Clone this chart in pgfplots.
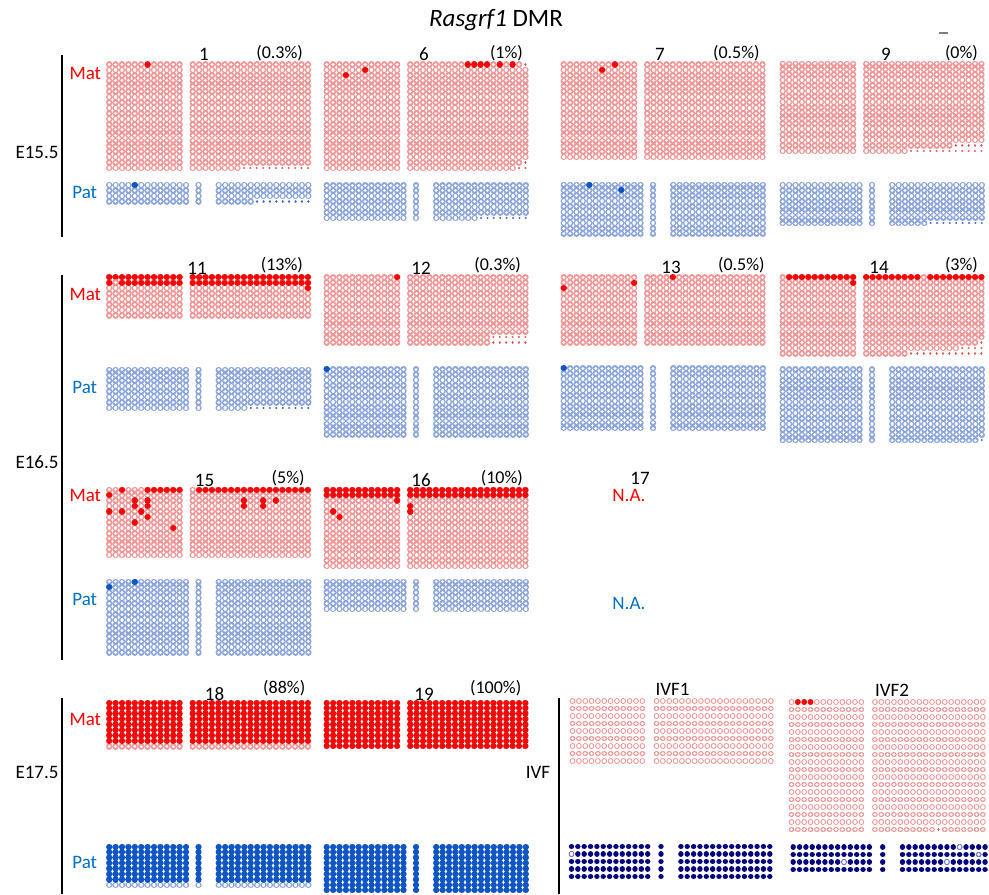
\documentclass[border=0pt]{standalone}
\usepackage{fontspec}
\setmainfont{Carlito}
\usepackage{pgfplots}
\pgfplotsset{compat=1.18}

\definecolor{matring}{RGB}{240,150,150}
\definecolor{matred}{RGB}{240,10,10}
\definecolor{matsmall}{RGB}{228,85,85}
\definecolor{patring}{RGB}{140,165,218}
\definecolor{patblue}{RGB}{15,85,195}
\definecolor{patsmall}{RGB}{60,100,200}
\definecolor{ivfnavy}{RGB}{5,5,125}
\definecolor{ivfring}{RGB}{120,130,210}
\definecolor{labred}{RGB}{255,0,0}
\definecolor{labblue}{RGB}{0,112,192}

% one "mark" = a block of nc x nr CpG circles, drawn row by row as
% dotted strokes with round caps (1 px of the picture = 0.5pt)
\newdimen\blkunit \blkunit=0.5pt
\newdimen\blkpxd \newdimen\blkpyd \newdimen\blkoffd
\newdimen\blkdod \newdimen\blkdid \newdimen\blkxa \newdimen\blkxb
\newcount\blkj \newcount\blkje
\def\blkrows{%
  \ifnum\blkj<\blkje
    \pgfpathmoveto{\pgfqpoint{\blkxa}{\dimexpr-\blkpyd*\blkj-\blkpyd/2\relax}}%
    \pgfpathlineto{\pgfqpoint{\blkxb}{\dimexpr-\blkpyd*\blkj-\blkpyd/2\relax}}%
    \advance\blkj 1\relax
    \expandafter\blkrows
  \fi}
\def\blksetup{%
  \blkpxd=\blkpx\blkunit \blkpyd=\blkpy\blkunit
  \blkdod=\blkdo\blkunit \blkdid=\blkdi\blkunit
  \blkoffd=\dimexpr\blkpxd-0.01pt\relax
  \blkxa=\dimexpr\blkpxd*\blkc+\blkpxd/2\relax
  \blkxb=\dimexpr\blkpxd*(\blkc+\blknc-1)+\blkpxd/2+0.01pt\relax
  \blkje=\numexpr\blkr+\blknr\relax
  \pgfsetroundcap
  \pgfsetdash{{0.01pt}{\the\blkoffd}}{0pt}%
  \pgfsetlinewidth{\the\blkdod}%
  \blkj=\blkr\relax \blkrows \pgfusepathqstroke}
\pgfdeclareplotmark{discgrid}{\blksetup}
\pgfdeclareplotmark{ringgrid}{\blksetup
  \pgfsetlinewidth{\the\blkdid}\pgfsetstrokecolor{white}%
  \blkj=\blkr\relax \blkrows \pgfusepathqstroke}

\pgfplotsset{
  blk/.style n args={6}{only marks, scatter, mark=#1, forget plot,
    visualization depends on={value \thisrow{c}\as\blkc},
    visualization depends on={value \thisrow{r}\as\blkr},
    visualization depends on={value \thisrow{nc}\as\blknc},
    visualization depends on={value \thisrow{nr}\as\blknr},
    scatter/@pre marker code/.code={\pgfscope\pgfsetstrokecolor{#2}%
      \def\blkpx{#3}\def\blkpy{#4}\def\blkdo{#5}\def\blkdi{#6}},
    scatter/@post marker code/.code={\endpgfscope}},
  sep/.style={black, line width=1.2pt, no marks, forget plot},
}
\newcommand\lab{\fontsize{9.5}{11}\selectfont}
\newcommand\pct{\fontsize{9}{11}\selectfont}

\begin{document}
\begin{tikzpicture}
\begin{axis}[name=ax, width=494.5pt, height=447pt, scale only axis,
  xmin=0, xmax=989, ymin=0, ymax=894, y dir=reverse,
  hide axis, clip=false]

% open maternal CpG circles (x, y = top left of block in px)
\addplot[blk={ringgrid}{matring}{6.4}{5.45}{6.4}{3.3}] table[x=x,y=y] {
x y c r nc nr
106.0 61.7 0 0 12 20
189.5 61.7 0 0 19 19
189.5 61.7 0 19 8 1
323.5 61.7 0 0 12 20
407.0 61.7 0 1 19 17
407.0 61.7 0 0 18 1
407.0 61.7 0 18 18 1
407.0 61.7 0 19 17 1
560.5 61.7 0 0 12 18
644.0 61.7 0 0 19 18
779.5 61.0 0 0 12 17
863.0 61.0 0 0 19 15
863.0 61.0 0 15 14 1
863.0 61.0 0 16 7 1
106.0 274.5 0 0 12 8
189.5 274.5 0 0 19 8
323.5 274.5 0 0 12 13
407.0 274.5 0 0 19 11
407.0 274.5 0 11 13 2
560.5 274.5 0 0 12 13
644.0 274.5 0 0 19 13
779.5 274.5 0 0 12 15
863.0 274.5 0 0 19 12
863.0 274.5 0 12 18 1
863.0 274.5 0 13 15 1
863.0 274.5 0 14 7 1
106.0 487 0 0 12 13
189.5 487 0 0 19 13
323.5 487 0 0 12 15
407.0 487 0 0 19 15
106.0 700 0 8 12 1
189.5 700 0 8 19 1
};

% open paternal CpG circles
\addplot[blk={ringgrid}{patring}{6.4}{5.45}{6.4}{3.3}] table[x=x,y=y] {
x y c r nc nr
106.0 182.3 0 0 13 4
195.3 182.3 0 0 1 4
215.5 182.3 0 0 15 3
215.5 182.3 0 3 6 1
323.5 182.5 0 0 13 7
412.8 182.5 0 0 1 7
433.0 182.5 0 0 15 6
433.0 182.5 0 6 7 1
560.5 182.0 0 0 13 10
649.8 182.0 0 0 1 10
670.0 182.0 0 0 15 10
779.5 182.3 0 0 13 8
868.8 182.3 0 0 1 8
889.0 182.3 0 0 15 7
889.0 182.3 0 7 6 1
106.0 367 0 0 13 8
195.3 367 0 0 1 8
215.5 367 0 0 15 7
215.5 367 0 7 5 1
323.5 366.5 0 0 13 13
412.8 366.5 0 0 1 13
433.0 366.5 0 0 15 13
560.5 365.5 0 0 13 12
649.8 365.5 0 0 1 12
670.0 365.5 0 0 15 12
779.5 366.7 0 0 13 14
868.8 366.7 0 0 1 14
889.0 366.7 0 0 15 13
889.0 366.7 0 13 14 1
106.0 579 0 0 13 14
195.3 579 0 0 1 14
215.5 579 0 0 15 14
323.5 579 0 0 13 6
412.8 579 0 0 1 6
433.0 579 0 0 15 6
106.0 844 0 7 13 1
195.3 844 0 7 1 1
215.5 844 0 7 15 1
};

% missing CpGs (small dots)
\addplot[blk={discgrid}{matsmall}{6.4}{5.45}{2.4}{0}] table[x=x,y=y] {
x y c r nc nr
189.5 61.7 8 19 11 1
407.0 61.7 18 0 1 1
407.0 61.7 18 18 1 1
407.0 61.7 17 19 2 1
863.0 61.0 14 15 5 1
863.0 61.0 7 16 12 1
407.0 274.5 13 11 6 2
863.0 274.5 18 12 1 1
863.0 274.5 15 13 4 1
863.0 274.5 7 14 12 1
};
\addplot[blk={discgrid}{patsmall}{6.4}{5.45}{2.4}{0}] table[x=x,y=y] {
x y c r nc nr
215.5 182.3 6 3 9 1
433.0 182.5 7 6 8 1
889.0 182.3 6 7 9 1
215.5 367 5 7 10 1
889.0 366.7 14 13 1 1
};

% methylated maternal CpGs
\addplot[blk={discgrid}{matred}{6.4}{5.45}{6.3}{0}] table[x=x,y=y] {
x y c r nc nr
106.0 61.7 6 0 1 1
323.5 61.7 3 2 1 1
323.5 61.7 6 1 1 1
407.0 61.7 9 0 4 1
407.0 61.7 14 0 1 1
407.0 61.7 16 0 1 1
560.5 61.7 6 1 1 1
560.5 61.7 8 0 1 1
106.0 274.5 0 0 12 2
189.5 274.5 0 0 19 2
189.5 274.5 18 2 1 1
323.5 274.5 11 0 1 1
560.5 274.5 0 2 1 1
560.5 274.5 11 1 1 1
644.0 274.5 4 0 1 1
779.5 274.5 1 0 11 1
779.5 274.5 11 1 1 1
863.0 274.5 0 0 9 1
863.0 274.5 10 0 9 1
106.0 487 2 0 1 1
106.0 487 6 0 6 1
106.0 487 0 1 1 1
106.0 487 4 2 1 1
106.0 487 6 2 1 1
106.0 487 4 3 1 1
106.0 487 6 3 1 1
106.0 487 0 4 1 1
106.0 487 2 4 1 1
106.0 487 5 4 1 1
106.0 487 6 5 1 1
106.0 487 4 6 1 1
106.0 487 10 7 1 1
189.5 487 1 0 18 1
189.5 487 8 2 1 2
189.5 487 11 2 1 2
189.5 487 13 2 1 1
323.5 487 0 0 12 2
323.5 487 11 2 1 1
323.5 487 1 4 1 1
323.5 487 2 5 1 1
407.0 487 0 0 19 2
407.0 487 0 3 1 2
106.0 700 0 0 12 8
189.5 700 0 0 19 8
323.5 700 0 0 12 9
407.0 700 0 0 19 9
};
% unmethylated CpG inside a methylated row
\addplot[blk={ringgrid}{matring}{6.4}{5.45}{6.4}{3.3}] table[x=x,y=y] {
x y c r nc nr
106.0 274.5 1 1 1 1
};

% methylated paternal CpGs
\addplot[blk={discgrid}{patblue}{6.4}{5.45}{6.3}{0}] table[x=x,y=y] {
x y c r nc nr
106.0 182.3 4 0 1 1
560.5 182.0 4 0 1 1
560.5 182.0 9 1 1 1
323.5 366.5 0 0 1 1
560.5 365.5 0 0 1 1
106.0 579 4 0 1 1
106.0 579 0 1 1 1
106.0 844 0 0 13 7
195.3 844 0 0 1 7
215.5 844 0 0 15 7
323.5 844 0 0 13 9
412.8 844 0 0 1 9
433.0 844 0 0 15 9
};

% IVF embryos
\addplot[blk={ringgrid}{matring}{6.35}{7.5}{5.7}{3.5}] table[x=x,y=y] {
x y c r nc nr
569.3 697.3 0 0 12 9
653.3 697.3 0 0 19 9
788.3 698.3 0 0 12 18
871.7 698.3 0 0 18 17
871.7 698.3 0 17 10 1
871.7 698.3 11 17 7 1
};
\addplot[blk={discgrid}{matsmall}{6.35}{7.5}{2.2}{0}] table[x=x,y=y] {
x y c r nc nr
871.7 698.3 10 17 1 1
};
\addplot[blk={discgrid}{matred}{6.35}{7.5}{5.7}{0}] table[x=x,y=y] {
x y c r nc nr
788.3 698.3 1 0 3 1
};
\addplot[blk={discgrid}{ivfnavy}{6.35}{7.5}{5.4}{0}] table[x=x,y=y] {
x y c r nc nr
568.3 842.7 0 0 13 5
657.8 842.7 0 0 1 5
677.7 842.7 0 0 15 5
790.0 843.3 0 0 13 4
879.5 843.3 0 0 1 4
899.3 843.3 0 0 14 4
};
\addplot[blk={ringgrid}{ivfring}{6.35}{7.5}{5.6}{3.5}] table[x=x,y=y] {
x y c r nc nr
568.3 842.7 0 1 1 1
790.0 843.3 8 2 1 1
899.3 843.3 9 0 1 1
899.3 843.3 12 1 1 1
899.3 843.3 7 2 1 1
};

% stage brackets
\addplot[sep] coordinates {(62,55) (62,237)};
\addplot[sep] coordinates {(62,275) (62,660)};
\addplot[sep] coordinates {(62,698) (62,894)};
\addplot[sep] coordinates {(559,698) (559,894)};
\addplot[gray, line width=0.7pt, no marks, forget plot] coordinates {(939,33) (948,33)};

% texts
\node[anchor=base, font=\fontsize{12.5}{14}\selectfont] at (axis cs:496,26) {\textit{Rasgrf1} DMR};

\node[anchor=base, font=\lab] at (axis cs:37,158) {E15.5};
\node[anchor=base, font=\lab] at (axis cs:37,468) {E16.5};
\node[anchor=base, font=\lab] at (axis cs:37,778) {E17.5};
\node[anchor=base, font=\lab] at (axis cs:538,778) {IVF};

\node[anchor=base, font=\lab, text=labred] at (axis cs:85.3,79.3) {Mat};
\node[anchor=base, font=\lab, text=labblue] at (axis cs:84.7,198.3) {Pat};
\node[anchor=base, font=\lab, text=labred] at (axis cs:85.3,300) {Mat};
\node[anchor=base, font=\lab, text=labblue] at (axis cs:84.7,393) {Pat};
\node[anchor=base, font=\lab, text=labred] at (axis cs:85.3,501.7) {Mat};
\node[anchor=base, font=\lab, text=labblue] at (axis cs:84.7,605) {Pat};
\node[anchor=base, font=\lab, text=labred] at (axis cs:85.3,725) {Mat};
\node[anchor=base, font=\lab, text=labblue] at (axis cs:84.7,868.3) {Pat};

\node[anchor=base, font=\lab] at (axis cs:204,60) {1};
\node[anchor=base east, font=\pct] at (axis cs:310,58.5) {(0.3\%)};
\node[anchor=base, font=\lab] at (axis cs:424,60) {6};
\node[anchor=base east, font=\pct] at (axis cs:530,58.5) {(1\%)};
\node[anchor=base, font=\lab] at (axis cs:660,60) {7};
\node[anchor=base east, font=\pct] at (axis cs:766.7,58.5) {(0.5\%)};
\node[anchor=base, font=\lab] at (axis cs:886,60) {9};
\node[anchor=base east, font=\pct] at (axis cs:985,58.5) {(0\%)};

\node[anchor=base, font=\lab] at (axis cs:197,274) {11};
\node[anchor=base east, font=\pct] at (axis cs:310,270) {(13\%)};
\node[anchor=base, font=\lab] at (axis cs:421,274) {12};
\node[anchor=base east, font=\pct] at (axis cs:528,270) {(0.3\%)};
\node[anchor=base, font=\lab] at (axis cs:671,273.3) {13};
\node[anchor=base east, font=\pct] at (axis cs:771.7,270) {(0.5\%)};
\node[anchor=base, font=\lab] at (axis cs:879,273.3) {14};
\node[anchor=base east, font=\pct] at (axis cs:985,270) {(3\%)};

\node[anchor=base, font=\lab] at (axis cs:204.5,486.7) {15};
\node[anchor=base east, font=\pct] at (axis cs:311.7,483) {(5\%)};
\node[anchor=base, font=\lab] at (axis cs:421,486.7) {16};
\node[anchor=base east, font=\pct] at (axis cs:530,483) {(10\%)};
\node[anchor=base, font=\lab] at (axis cs:640,484) {17};
\node[anchor=base, font=\lab, text=labred] at (axis cs:629,501) {N.A.};
\node[anchor=base, font=\lab, text=labblue] at (axis cs:629,609) {N.A.};

\node[anchor=base, font=\lab] at (axis cs:214.5,700) {18};
\node[anchor=base east, font=\pct] at (axis cs:312.3,693) {(88\%)};
\node[anchor=base, font=\lab] at (axis cs:424,700) {19};
\node[anchor=base east, font=\pct] at (axis cs:528.3,693) {(100\%)};
\node[anchor=base, font=\lab] at (axis cs:672.5,695) {IVF1};
\node[anchor=base, font=\lab] at (axis cs:892,696.7) {IVF2};
\end{axis}
\pgfresetboundingbox
\path[use as bounding box] (ax.south west) rectangle (ax.north east);
\end{tikzpicture}
\end{document}
